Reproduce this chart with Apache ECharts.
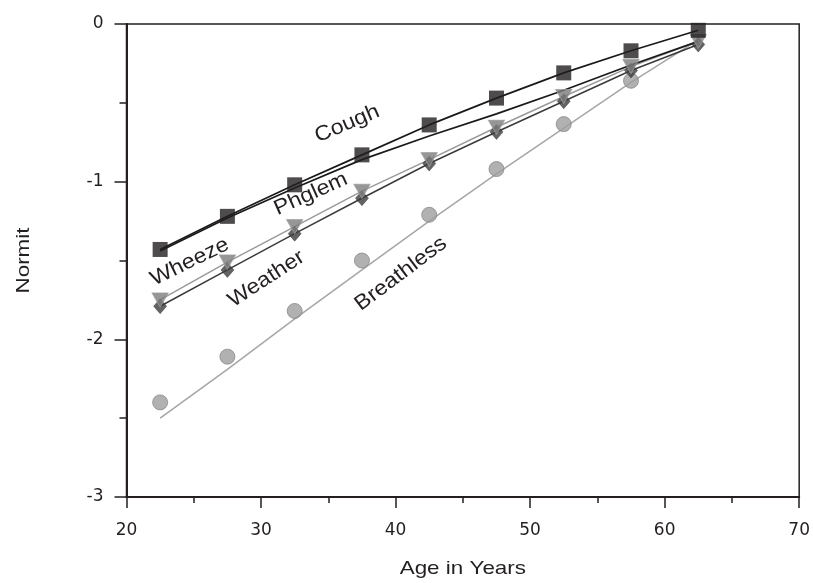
<!DOCTYPE html>
<html>
<head>
<meta charset="utf-8">
<script src="https://cdn.jsdelivr.net/npm/echarts@6/dist/echarts.min.js"></script>
<style>
html,body{margin:0;padding:0;background:#fff;}
#chart{width:813px;height:583px;}
</style>
</head>
<body>
<div id="chart"></div>
<script>
// Ages (class midpoints)
var ages = [22.5, 27.5, 32.5, 37.5, 42.5, 47.5, 52.5, 57.5, 62.5];
// Observed normits (markers)
var coughPts = [-1.43, -1.22, -1.02, -0.83, -0.64, -0.47, -0.31, -0.17, -0.04];
var wheezePts = [-1.75, -1.51, -1.285, -1.06, -0.86, -0.655, -0.46, -0.27, -0.11];
var weatherPts = [-1.79, -1.56, -1.33, -1.105, -0.885, -0.685, -0.49, -0.295, -0.13];
var breathlessAges = [22.5, 27.5, 32.5, 37.5, 42.5, 47.5, 52.5, 57.5];
var breathlessPts = [-2.40, -2.11, -1.82, -1.50, -1.21, -0.92, -0.635, -0.36];
// Fitted / connecting lines
var coughLine = [-1.43, -1.22, -1.02, -0.83, -0.64, -0.47, -0.31, -0.17, -0.04];
var phglemLine = [-1.44, -1.23, -1.04, -0.86, -0.71, -0.57, -0.42, -0.26, -0.11];
var wheezeLine = [-1.75, -1.51, -1.285, -1.06, -0.86, -0.655, -0.46, -0.27, -0.11];
var weatherLine = [-1.79, -1.56, -1.33, -1.105, -0.885, -0.685, -0.49, -0.295, -0.13];
var breathlessLine = [-2.50, -2.19, -1.87, -1.56, -1.25, -0.95, -0.66, -0.37, -0.10];
// Axis ticks
var xTicks = [20, 30, 40, 50, 60, 70];
var yTicks = [-3, -2, -1, 0];
// Axis titles
var xTitle = 'Age in Years';
var yTitle = 'Normit';
// Curve labels: [text, age, normit, angle in degrees]
var curveLabels = [
  ['Cough', 36.4, -0.634, 23],
  ['Phglem', 33.7, -1.078, 24],
  ['Wheeze', 24.7, -1.509, 26],
  ['Weather', 30.4, -1.617, 33],
  ['Breathless', 40.4, -1.585, 37]
];

function zip(xs, ys) { return xs.map(function (x, i) { return [x, ys[i]]; }); }

var FONT = '"Liberation Sans", Arial, sans-serif';
var TICKFONT = '"DejaVu Sans", sans-serif';
var INK = '#231f20';
var chart = echarts.init(document.getElementById('chart'), null, {renderer: 'canvas'});

function lineSeries(name, ys, color, z, w) {
  return {
    name: name, type: 'line', data: zip(ages, ys), showSymbol: false, symbol: 'none',
    lineStyle: {color: color, width: w || 1.5}, z: z, silent: true, animation: false
  };
}
function markerSeries(name, xs, ys, opts) {
  return Object.assign({
    name: name, type: 'scatter', data: zip(xs, ys), silent: true, animation: false
  }, opts);
}

var option = {
  animation: false,
  backgroundColor: '#fff',
  grid: {left: 126.5, right: 13, top: 24, bottom: 86, show: true, borderColor: INK, borderWidth: 1.5, backgroundColor: 'transparent'},
  xAxis: {
    type: 'value', min: xTicks[0], max: xTicks[xTicks.length - 1], interval: 10,
    axisLine: {show: true, onZero: false, lineStyle: {color: INK, width: 2}},
    axisTick: {show: true, inside: false, length: 11, lineStyle: {color: INK, width: 1.5}},
    minorTick: {show: true, splitNumber: 2, length: 6, lineStyle: {color: INK, width: 1.5}},
    axisLabel: {fontFamily: TICKFONT, fontSize: 17, color: INK, margin: 25},
    splitLine: {show: false}
  },
  yAxis: {
    type: 'value', min: yTicks[0], max: yTicks[yTicks.length - 1], interval: 1,
    axisLine: {show: true, onZero: false, lineStyle: {color: INK, width: 2}},
    axisTick: {show: true, inside: false, length: 12, lineStyle: {color: INK, width: 1.5}},
    minorTick: {show: true, splitNumber: 2, length: 7, lineStyle: {color: INK, width: 1.5}},
    axisLabel: {fontFamily: TICKFONT, fontSize: 17, color: INK, margin: 23},
    splitLine: {show: false}
  },
  series: [
    lineSeries('Breathless fit', breathlessLine, '#a6a6a6', 2),
    lineSeries('Wheeze line', wheezeLine, '#9a9a9a', 2),
    lineSeries('Weather line', weatherLine, '#3a3a3a', 2),
    lineSeries('Phglem line', phglemLine, '#1a1a1a', 2, 1.7),
    lineSeries('Cough line', coughLine, '#1a1a1a', 2, 1.7),
    markerSeries('Breathless', breathlessAges, breathlessPts, {
      symbol: 'circle', symbolSize: 15, z: 3,
      itemStyle: {color: '#9d9d9d', borderColor: '#888888', borderWidth: 1}
    }),
    markerSeries('Weather', ages, weatherPts, {
      symbol: 'diamond', symbolSize: [13, 15], z: 4,
      itemStyle: {color: '#3c3c3c', borderColor: '#2a2a2a', borderWidth: 0.5}
    }),
    markerSeries('Wheeze', ages, wheezePts, {
      symbol: 'triangle', symbolSize: [16, 14], symbolRotate: 180, z: 5,
      itemStyle: {color: '#7c7c7c', borderColor: '#9a9a9a', borderWidth: 1}
    }),
    markerSeries('Cough', ages, coughPts, {
      symbol: 'rect', symbolSize: 15, z: 6,
      itemStyle: {color: INK}
    })
  ]
};
chart.setOption(option);

// rotated group holding a text stretched along its own baseline
function textEl(txt, x, y, rotDeg, size, stretch) {
  return {
    type: 'group', x: x, y: y, rotation: rotDeg * Math.PI / 180, z: 10,
    children: [{
      type: 'text', x: 0, y: 0, scaleX: stretch, z: 10,
      style: {text: txt, font: size + 'px ' + FONT, fill: INK, align: 'center', verticalAlign: 'middle'}
    }]
  };
}

var graphics = curveLabels.map(function (l) {
  var p = chart.convertToPixel({gridIndex: 0}, [l[1], l[2]]);
  return textEl(l[0], p[0], p[1], l[3], 21, 1.1);
});
// axis titles placed relative to the grid
var pBL = chart.convertToPixel({gridIndex: 0}, [xTicks[0], yTicks[0]]);
var pTR = chart.convertToPixel({gridIndex: 0}, [xTicks[xTicks.length - 1], yTicks[yTicks.length - 1]]);
graphics.push(textEl(xTitle, (pBL[0] + pTR[0]) / 2, pBL[1] + 72, 0, 19, 1.18));
graphics.push(textEl(yTitle, pBL[0] - 103, (pBL[1] + pTR[1]) / 2, 90, 19, 1.18));
chart.setOption({graphic: graphics});
</script>
</body>
</html>
